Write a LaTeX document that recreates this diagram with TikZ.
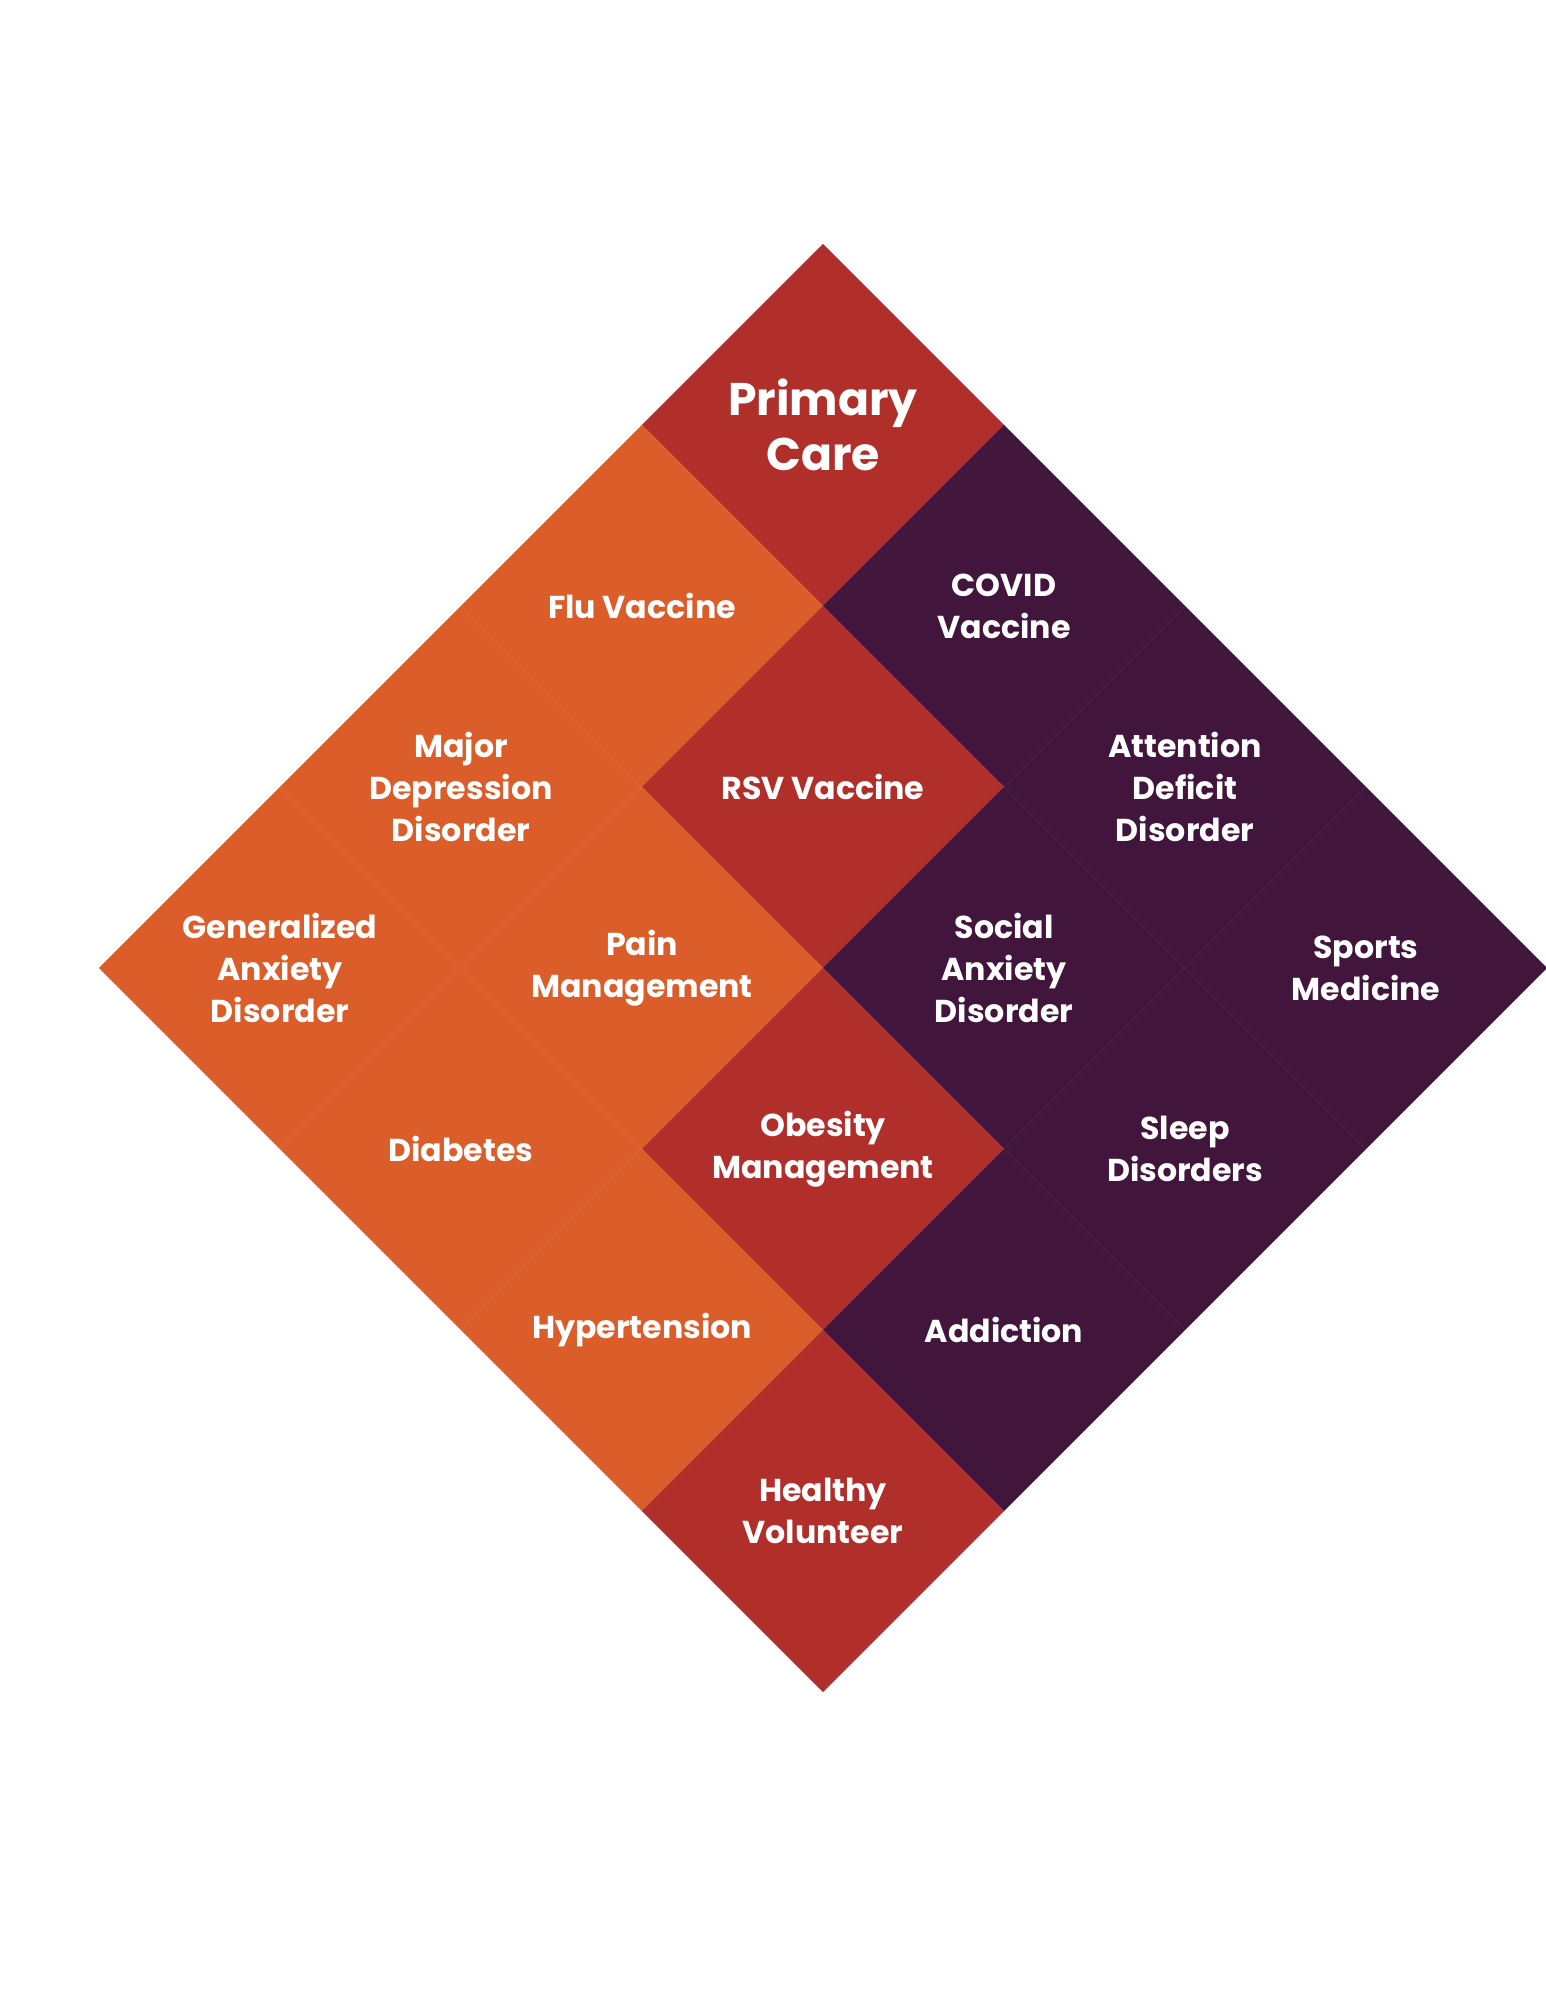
\documentclass[tikz,border=0pt]{standalone}
\usepackage{fontspec}
\setmainfont{Poppins}
\usepackage{xcolor}
\usepackage{tikz}
\usetikzlibrary{shapes.geometric, positioning}

\definecolor{pcred}{HTML}{B12F2B}
\definecolor{pcorange}{HTML}{DA5D2A}
\definecolor{pcpurple}{HTML}{42163C}

\tikzset{
  cell/.style={
    diamond, aspect=1, inner sep=0pt, outer sep=0pt,
    minimum width=3.62cm, minimum height=3.62cm,
    align=center, text=white,
    font=\fontsize{9}{11.9}\selectfont\bfseries
  },
  cellred/.style={cell, fill=pcred},
  cellorange/.style={cell, fill=pcorange},
  cellpurple/.style={cell, fill=pcpurple},
  celltitle/.style={
    font=\fontsize{13}{15.5}\selectfont\bfseries
  },
}

\begin{document}
\begin{tikzpicture}[x=0.01cm, y=-0.01cm]
  \useasboundingbox[fill=white] (0,0) rectangle (1545,2000);

  % --- Top row (down-right from the apex) ---
  \node[cellred, celltitle] (pcare) at (823, 425) {Primary\\Care};
  \node[cellpurple] (covid) at (1004, 606) {COVID\\Vaccine};
  \node[cellpurple] (adhd) at (1185, 787) {Attention\\Deficit\\Disorder};
  \node[cellpurple] (sports) at (1366, 968) {Sports\\Medicine};

  % --- Second row ---
  \node[cellorange] (flu) at (642, 606) {Flu Vaccine};
  \node[cellred] (rsv) at (823, 787) {RSV Vaccine};
  \node[cellpurple] (social) at (1004, 968) {Social\\Anxiety\\Disorder};
  \node[cellpurple] (sleep) at (1185, 1149) {Sleep\\Disorders};

  % --- Third row ---
  \node[cellorange] (mdd) at (461, 787) {Major\\Depression\\Disorder};
  \node[cellorange] (pain) at (642, 968) {Pain\\Management};
  \node[cellred] (obesity) at (823, 1149) {Obesity\\Management};
  \node[cellpurple] (addiction) at (1004, 1330) {Addiction};

  % --- Bottom row ---
  \node[cellorange] (gad) at (280, 968) {Generalized\\Anxiety\\Disorder};
  \node[cellorange] (diabetes) at (461, 1149) {Diabetes};
  \node[cellorange] (hypertension) at (642, 1330) {Hypertension};
  \node[cellred] (healthy) at (823, 1511) {Healthy\\Volunteer};

\end{tikzpicture}
\end{document}
